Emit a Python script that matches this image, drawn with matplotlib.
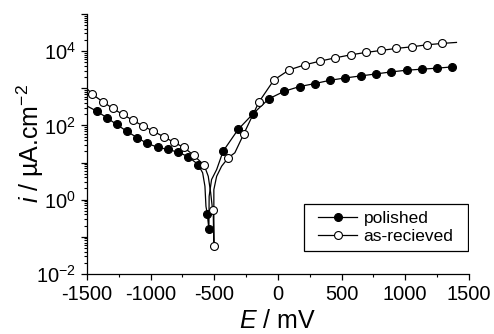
import numpy as np
import matplotlib
matplotlib.use("Agg")
import matplotlib.pyplot as plt
from matplotlib.patches import Rectangle

# ─── DATA ────────────────────────────────────────────────────────
# polished: potential (mV) and current density (uA/cm2)
pol_E = [-1500, -1424, -1345, -1267, -1188, -1105, -1026, -945, -866, -783,
         -704, -626, -591, -573, -565, -555, -542, -540, -521, -481,
         -430, -312, -194, -71, 50, 170, 291, 411, 529, 650,
         770, 890, 1011, 1129, 1249, 1369]
pol_i = [333, 243, 162, 106, 70, 46.5, 32.6, 25.9, 22.5, 19,
         14.3, 8.8, 5.27, 2.29, 0.66, 0.42, 0.16, 1.23, 3.47, 6.46,
         20.2, 78, 207, 520, 830, 1111, 1340, 1645, 1897, 2150,
         2434, 2758, 3065, 3264, 3474, 3765]
pol_marks = [1, 2, 3, 4, 5, 6, 7, 8, 9, 10, 11, 15, 16,
             20, 21, 22, 23, 24, 25, 26, 27, 28, 29, 30, 31, 32, 33, 34, 35]

# as-recieved
rec_E = [-1500, -1458, -1377, -1298, -1220, -1136, -1058, -979, -898, -819,
         -738, -660, -579, -547, -528, -516, -508, -503, -503, -481,
         -442, -390, -338, -267, -149, -31, 89, 210, 330, 450,
         571, 691, 811, 929, 1050, 1170, 1290, 1403]
rec_i = [980, 689, 437, 288, 198, 136, 95.8, 70, 49.5, 35.4,
         25.4, 15.5, 8.45, 4.26, 1.52, 0.66, 0.51, 0.055, 1.86, 4.26,
         7.94, 13.4, 18.3, 59.7, 426, 1675, 3126, 4266, 5370, 6597,
         7946, 9226, 10450, 11830, 13070, 14800, 16150, 17180]
rec_marks = [1, 2, 3, 4, 5, 6, 7, 8, 9, 10, 11, 12, 16, 17,
             21, 23, 24, 25, 26, 27, 28, 29, 30, 31, 32, 33, 34, 35, 36]

x_ticks = [-1500, -1000, -500, 0, 500, 1000, 1500]
y_exps = list(range(-2, 6))

# ─── STYLE ───────────────────────────────────────────────────────
plt.rcParams['font.family'] = ['Liberation Sans', 'DejaVu Sans']
plt.rcParams['mathtext.fontset'] = 'custom'
plt.rcParams['mathtext.rm'] = 'Liberation Sans'
plt.rcParams['mathtext.it'] = 'Liberation Sans:italic'

fig = plt.figure(figsize=(4.94, 3.34), dpi=100)
ax = fig.add_axes([0.176, 0.180, 0.773, 0.778])

ax.plot(pol_E, pol_i, color='black', lw=0.9, marker='o', markevery=pol_marks,
        ms=5.7, mfc='black', mec='black', mew=0.8, label='polished')
ax.plot(rec_E, rec_i, color='black', lw=0.9, marker='o', markevery=rec_marks,
        ms=5.7, mfc='white', mec='black', mew=0.8, label='as-recieved')

ax.set_yscale('log')
ax.set_xlim(-1500, 1500)
ax.set_ylim(1e-2, 1e5)

# ─── TICKS ───────────────────────────────────────────────────────
ax.set_xticks(x_ticks)
ax.set_xticks(np.arange(-1500, 1501, 250), minor=True)
ax.set_xticklabels([str(t) for t in x_ticks])
ax.set_yticks([10.0 ** k for k in y_exps])
ax.set_yticklabels([r'$10^{%d}$' % k if k % 2 == 0 and k < 5 else '' for k in y_exps])
ax.yaxis.set_minor_locator(matplotlib.ticker.LogLocator(base=10, subs=np.arange(2, 10), numticks=20))
ax.yaxis.set_minor_formatter(matplotlib.ticker.NullFormatter())
ax.tick_params(which='major', direction='out', length=4, width=0.9, labelsize=14.5, pad=4)
ax.tick_params(which='minor', direction='out', length=2.2, width=0.8)

for s in ['top', 'right']:
    ax.spines[s].set_visible(False)
for s in ['left', 'bottom']:
    ax.spines[s].set_linewidth(0.9)

ax.set_xlabel(r'$\mathit{E}$ / mV', fontsize=18)
ax.set_ylabel(r'$\mathit{i}$ / µA.cm$^{-2}$', fontsize=18)
ax.xaxis.set_label_coords(0.5, -0.135)
ax.yaxis.set_label_coords(-0.108, 0.5)

# ─── LEGEND (square box drawn separately for the wide side padding) ──
ax.add_patch(Rectangle((0.568, 0.0885), 0.429, 0.181, transform=ax.transAxes,
                       facecolor='white', edgecolor='black', lw=0.9, zorder=4))
leg = ax.legend(loc='center', bbox_to_anchor=(0.783, 0.179), fontsize=12.5,
                frameon=False, handlelength=2.25, handletextpad=0.35,
                labelspacing=0.2, borderpad=0, borderaxespad=0)
leg.set_zorder(5)

fig.savefig('out.png', dpi=100)
